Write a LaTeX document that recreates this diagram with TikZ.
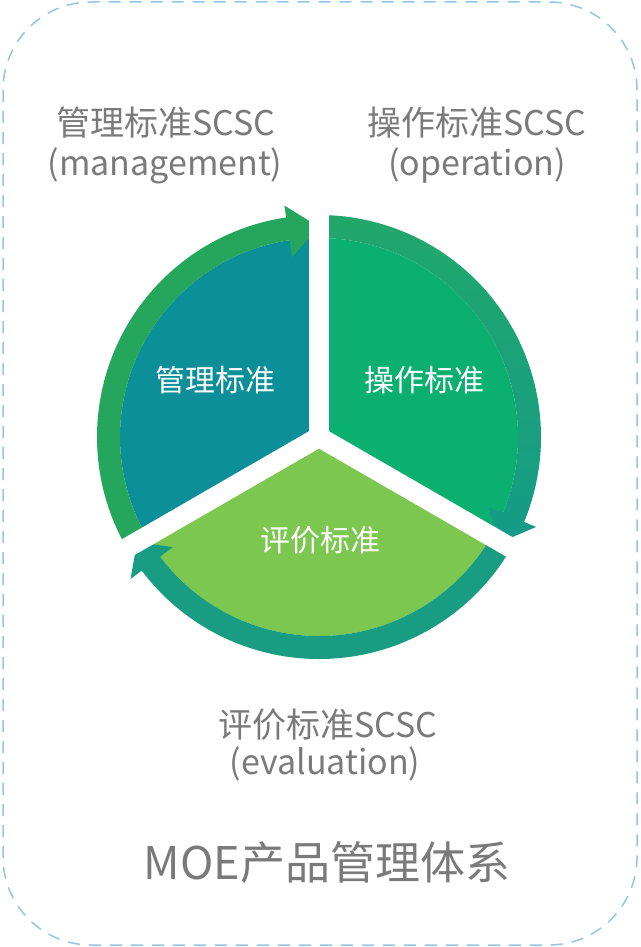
\documentclass[tikz,border=0pt]{standalone}
\usepackage{fontspec}
\newfontfamily\cjk{Noto Sans CJK SC}
\definecolor{tealA}{HTML}{0D8F9A}
\definecolor{greenA}{HTML}{0BAF6F}
\definecolor{lightA}{HTML}{7CC750}
\definecolor{ringA}{HTML}{24A65C}
\definecolor{ringBt}{HTML}{22A86A}
\definecolor{ringBb}{HTML}{149A89}
\definecolor{ringC}{HTML}{189C82}
\definecolor{labgray}{HTML}{7A7A7A}
\definecolor{borderblue}{HTML}{93C6E6}
\begin{document}
\begin{tikzpicture}[x=1pt,y=1pt,
  glab/.style={text=labgray, font=\cjk\fontsize{34}{36}\selectfont, inner sep=0pt, text height=28.2pt, text depth=2.4pt},
  slab/.style={text=white, font=\cjk\fontsize{30}{32}\selectfont, inner sep=0pt, text height=24.9pt, text depth=2.1pt},
  tlab/.style={text=labgray, font=\cjk\fontsize{45}{47}\selectfont, inner sep=0pt, text height=37.3pt, text depth=3.2pt},
  gapline/.style={white, line width=20pt},
  frame/.style={borderblue, line width=1.5pt, dash pattern=on 12pt off 9pt, rounded corners=88pt}]
\useasboundingbox (0,0) rectangle (640,-947);
\fill[white] (0,0) rectangle (640,-947);
\draw[frame] (3,-2) rectangle (637,-945);
\coordinate (C) at (319,-437);
% pie sectors
\fill[tealA] (C) -- ([shift={(90:199)}]C) arc[start angle=90,end angle=210,radius=199] -- cycle;
\fill[greenA] (C) -- ([shift={(-30:199)}]C) arc[start angle=-30,end angle=90,radius=199] -- cycle;
\fill[lightA] (C) -- ([shift={(210:199)}]C) arc[start angle=210,end angle=330,radius=199] -- cycle;
% ring: management (top-left)
\fill[ringA] ([shift={(210:199)}]C) arc[start angle=210,end angle=98,radius=199]
  -- ([shift={(98:222)}]C) arc[start angle=98,end angle=210,radius=222] -- cycle;
\fill[ringA] ([shift={(98.5:182)}]C) -- ([shift={(90:210)}]C) -- ([shift={(98.5:234)}]C) -- cycle;
% ring: operation (right), shaded
\begin{scope}
\clip ([shift={(90:199)}]C) arc[start angle=90,end angle=-22.5,radius=199]
  -- ([shift={(-22.5:183)}]C) -- ([shift={(-30:210)}]C) -- ([shift={(-22.5:235)}]C)
  -- ([shift={(-22.5:222)}]C) arc[start angle=-22.5,end angle=90,radius=222] -- cycle;
\shade[top color=ringBt, bottom color=ringBb] (300,-200) rectangle (570,-560);
\end{scope}
% ring: evaluation (bottom)
\fill[ringC] ([shift={(-30:199)}]C) arc[start angle=-30,end angle=-143,radius=199]
  -- ([shift={(-143:183)}]C) -- ([shift={(-150:210)}]C) -- ([shift={(-143:236)}]C)
  -- ([shift={(-143:222)}]C) arc[start angle=-143,end angle=-30,radius=222] -- cycle;
% gaps
\draw[gapline] (C) -- ([shift={(90:250)}]C);
\draw[gapline] (C) -- ([shift={(-30:250)}]C);
\draw[gapline] (C) -- ([shift={(210:250)}]C);
% sector labels
\node[slab] (sm) at (215,-380) {管理标准};
\node[slab] (so) at (424,-380) {操作标准};
\node[slab] (se) at (320,-540) {评价标准};
% outer labels
\node[glab] (lm1) at (166,-123) {管理标准SCSC};
\node[glab] (lm2) at (165,-163) {(management)};
\node[glab] (lo1) at (477,-123) {操作标准SCSC};
\node[glab] (lo2) at (477,-163) {(operation)};
\node[glab] (le1) at (328,-725) {评价标准SCSC};
\node[glab] (le2) at (325,-762) {(evaluation)};
\node[tlab] (title) at (327,-862) {MOE产品管理体系};
\end{tikzpicture}
\end{document}
